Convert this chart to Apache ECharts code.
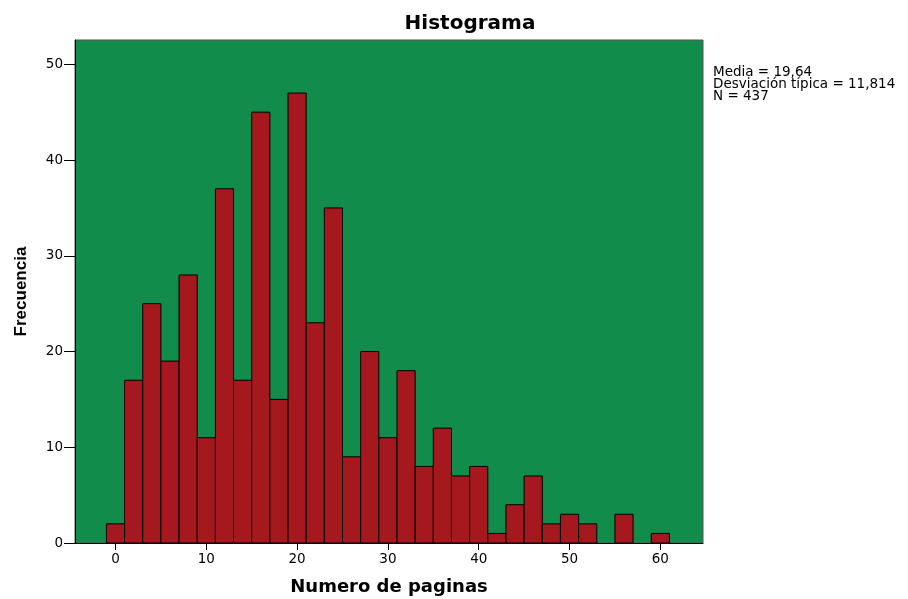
<!DOCTYPE html>
<html><head><meta charset="utf-8">
<script src="https://cdn.jsdelivr.net/npm/echarts@6/dist/echarts.min.js"></script>
<style>html,body{margin:0;padding:0;background:#fff}#c{width:908px;height:599px}</style>
</head><body><div id="c"></div>
<script>
var binCenters = [0,2,4,6,8,10,12,14,16,18,20,22,24,26,28,30,32,34,36,38,40,42,44,46,48,50,52,54,56,58,60];
var frequencies = [2,17,25,19,28,11,37,17,45,15,47,23,35,9,20,11,18,8,12,7,8,1,4,7,2,3,2,0,3,0,1];
var xTicks = [0,10,20,30,40,50,60];
var yTicks = [0,10,20,30,40,50];
var binWidth = 2;
var statsLines = ['Media = 19,64','Desviación típica = 11,814','N = 437'];

var data = binCenters.map(function(c,i){return [c, frequencies[i]];}).filter(function(d){return d[1]>0;});
var chart = echarts.init(document.getElementById('c'));
chart.setOption({
  animation:false,
  title:{text:'Histograma',left:465,top:9,textAlign:'center',textStyle:{fontFamily:'DejaVu Sans',fontSize:20,fontWeight:'bold',color:'#000'}},
  graphic:[{type:'text',left:713,top:65,style:{text:statsLines.join('\n'),font:'13.5px DejaVu Sans',fill:'#000',lineHeight:12}}],
  grid:{left:75,right:205,top:40,bottom:56,show:true,backgroundColor:'#118c4a',borderColor:'#555',borderWidth:1,outerBoundsMode:'none',containLabel:false},
  xAxis:{type:'value',min:-4.46,max:64.7,name:'Numero de paginas',nameLocation:'middle',nameGap:35,
    nameTextStyle:{fontFamily:'DejaVu Sans',fontSize:18,fontWeight:'bold',color:'#000'},
    axisLine:{show:true,onZero:false,lineStyle:{color:'#000'}},axisTick:{show:true,length:7,customValues:xTicks,lineStyle:{color:'#000'}},
    axisLabel:{customValues:xTicks,fontFamily:'DejaVu Sans',fontSize:13.5,color:'#000',margin:9},splitLine:{show:false}},
  yAxis:{type:'value',min:0,max:52.54,name:'Frecuencia',nameLocation:'middle',nameGap:45,
    nameTextStyle:{fontFamily:'Liberation Sans',fontSize:17,fontWeight:'bold',color:'#000'},
    axisLine:{show:true,onZero:false,lineStyle:{color:'#000'}},axisTick:{show:true,length:11,customValues:yTicks,lineStyle:{color:'#000'}},
    axisLabel:{customValues:yTicks,fontFamily:'DejaVu Sans',fontSize:13.5,color:'#000',margin:12},splitLine:{show:false}},
  series:[{type:'custom',data:data,encode:{x:0,y:1},
    renderItem:function(params,api){
      var c=api.value(0),v=api.value(1);
      var p0=api.coord([c-binWidth/2,v]);
      var p1=api.coord([c+binWidth/2,0]);
      return {type:'rect',shape:{x:p0[0],y:p0[1],width:p1[0]-p0[0],height:p1[1]-p0[1]},
        style:{fill:'#a5181d',stroke:'#000',lineWidth:1}};
    }}]
});
</script></body></html>
